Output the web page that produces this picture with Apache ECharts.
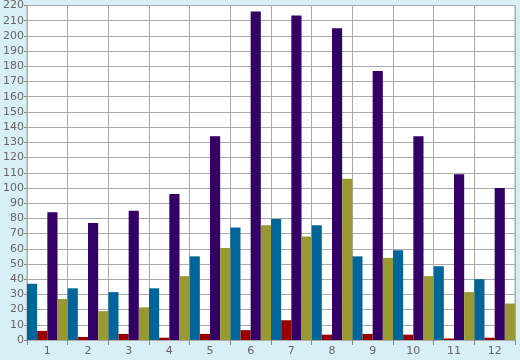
<!DOCTYPE html>
<html><head><meta charset="utf-8">
<script src="https://cdn.jsdelivr.net/npm/echarts@6/dist/echarts.min.js"></script>
<style>html,body{margin:0;padding:0;background:#d9eff6;}#c{width:520px;height:360px;}</style>
</head><body><div id="c"></div>
<script>
var categories = ['1','2','3','4','5','6','7','8','9','10','11','12'];
var seriesBlue = [37, 34, 31.5, 34, 55, 74, 79.5, 75.5, 55, 59, 48.5, 40];
var seriesRed = [6, 2, 4, 1.5, 4, 6.5, 13, 3.5, 4, 3.5, 1, 1.5];
var seriesPurple = [84, 77, 85, 96, 134, 216, 213.5, 205, 177, 134, 109, 100];
var seriesOlive = [27, 19, 21.5, 42, 60.5, 75.5, 68, 106, 54, 42, 31.5, 24];

var chart = echarts.init(document.getElementById('c'), null, {renderer:'canvas'});
var lab = {color:'#666', fontFamily:'DejaVu Sans', fontSize:11};
function bar(name, data, color){
  return {name:name, type:'bar', data:data, itemStyle:{color:color}, barGap:'0%', barCategoryGap:'0%', animation:false};
}
chart.setOption({
  backgroundColor:'#d9eff6',
  animation:false,
  grid:{left:26, right:5, top:5, bottom:20, show:true, backgroundColor:'#fff', borderColor:'#aaa', borderWidth:1},
  xAxis:{type:'category', data:categories, boundaryGap:true,
    axisLine:{lineStyle:{color:'#aaa'}},
    axisTick:{show:true, alignWithLabel:false, length:5, lineStyle:{color:'#888'}},
    splitLine:{show:true, interval:0, lineStyle:{color:'#aaa'}},
    axisLabel:Object.assign({margin:6, interval:0}, lab)},
  yAxis:{type:'value', min:0, max:220, interval:10,
    axisLine:{show:true, lineStyle:{color:'#aaa'}},
    axisTick:{show:true, length:3, lineStyle:{color:'#888'}},
    splitLine:{lineStyle:{color:'#aaa'}},
    axisLabel:Object.assign({margin:3}, lab)},
  series:[bar('a', seriesBlue, '#006699'), bar('b', seriesRed, '#990000'), bar('c', seriesPurple, '#330066'), bar('d', seriesOlive, '#999933')]
});
</script></body></html>
